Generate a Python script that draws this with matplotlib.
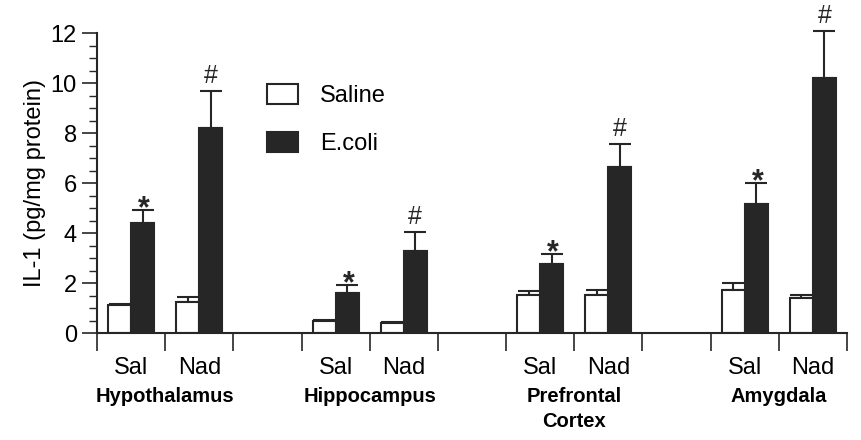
# IL-1 bar chart, saline vs E.coli per brain region
import numpy as np
import matplotlib
matplotlib.use('Agg')
from matplotlib import pyplot as plt
from matplotlib.ticker import MultipleLocator
from matplotlib.patches import Patch

plt.rcParams['font.family'] = ['Liberation Sans', 'DejaVu Sans']

# data
regions = ['Hypothalamus', 'Hippocampus', 'Prefrontal\nCortex', 'Amygdala']
treatments = ['Sal', 'Nad']
slots = [0, 1, 3, 4, 6, 7, 9, 10]
saline = [1.12, 1.25, 0.49, 0.41, 1.51, 1.53, 1.72, 1.41]
saline_err = [0.06, 0.20, 0.03, 0.03, 0.17, 0.19, 0.27, 0.11]
ecoli = [4.41, 8.21, 1.61, 3.28, 2.75, 6.65, 5.16, 10.21]
ecoli_err = [0.51, 1.47, 0.31, 0.77, 0.41, 0.90, 0.83, 1.88]
marks = ['*', '#', '*', '#', '*', '#', '*', '#']

dark = '#262626'
w = 0.337
x = np.array(slots)

fig = plt.figure(figsize=(8.62, 4.40), dpi=100)
ax = fig.add_axes([97/862, 1 - 333/440, 750/862, 300/440])

ax.bar(x - w/2, saline, w, color='white', edgecolor=dark, linewidth=1.5, zorder=2)
ax.bar(x + w/2, ecoli, w, color=dark, edgecolor=dark, linewidth=1.5, zorder=2)
for xs, vals, errs in [(x - w/2, saline, saline_err), (x + w/2, ecoli, ecoli_err)]:
    eb = ax.errorbar(xs, vals, yerr=[np.zeros(len(vals)), errs], fmt='none',
                     ecolor=dark, elinewidth=1.5, capsize=8, capthick=1.5, zorder=1)
    for art in eb.lines[1] + eb.lines[2]:
        art.set_clip_on(False)

for xi, v, e, m in zip(x + w/2, ecoli, ecoli_err, marks):
    if m == '*':
        ax.text(xi + 0.02, v + e - 0.55, m, ha='center', va='bottom', fontsize=22,
                fontweight='bold', color=dark)
    else:
        ax.text(xi, v + e + 0.12, m, ha='center', va='bottom', fontsize=18, color=dark)

ax.set_xlim(-0.5, 10.5)
ax.set_ylim(0, 12)
ax.spines['top'].set_visible(False)
ax.spines['right'].set_visible(False)
for s in ['left', 'bottom']:
    ax.spines[s].set_linewidth(1.5)
    ax.spines[s].set_color(dark)

ax.yaxis.set_major_locator(MultipleLocator(2))
ax.yaxis.set_minor_locator(MultipleLocator(0.5))
ax.tick_params(axis='y', which='major', length=11, width=1.2, labelsize=17, color=dark)
ax.tick_params(axis='y', which='minor', length=6, width=1.0, color=dark)

ax.set_xticks(np.arange(-0.5, 11, 1))
ax.set_xticklabels([])
ax.tick_params(axis='x', which='major', length=13, width=1.2, color=dark)
ax.set_xticks(x, [treatments[i % 2] for i in range(len(slots))], minor=True)
ax.tick_params(axis='x', which='minor', length=0, labelsize=17, pad=17)

ax.set_ylabel('IL-1 (pg/mg protein)', fontsize=17, labelpad=3)

for i, r in enumerate(regions):
    cx = (slots[2*i] + slots[2*i + 1]) / 2
    ax.text(cx, -2.15, r, ha='center', va='top', fontsize=14.5, fontweight='bold',
            linespacing=1.4)

handles = [Patch(facecolor='white', edgecolor=dark, linewidth=1.5, label='Saline'),
           Patch(facecolor=dark, edgecolor=dark, linewidth=1.5, label='E.coli')]
ax.legend(handles=handles, loc='upper left', bbox_to_anchor=(0.227, 0.83), frameon=False,
          fontsize=17, handlelength=1.3, handleheight=0.93, handletextpad=0.93,
          labelspacing=1.05, borderpad=0, borderaxespad=0)

fig.savefig('out.png', dpi=100)
